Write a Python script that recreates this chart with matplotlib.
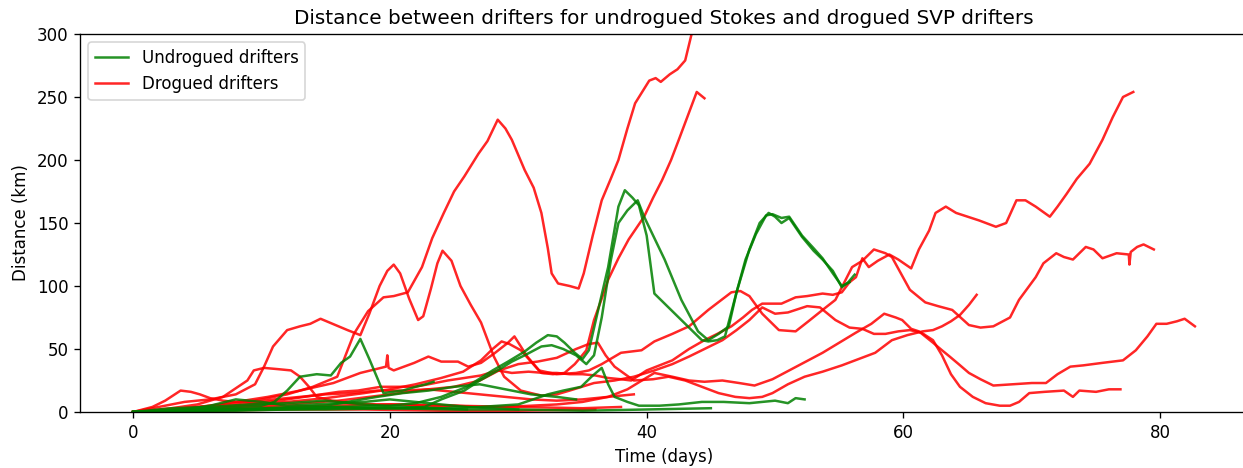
import matplotlib.pyplot as plt

# Distance (km) between drifter pairs vs. time (days)

# drogued SVP drifters
d1_t = [0, 3, 6, 9, 12, 14, 15.9, 17.2, 18.3, 19.5, 20.3, 21.4, 22.5, 23.3, 24.2, 25.0, 25.8, 26.9, 27.6, 28.4,
        29.0, 29.5, 30.5, 31.2, 31.8, 32.3, 32.6, 33.1, 34.0, 34.7, 35.1, 35.8, 36.5, 37.2, 37.8, 38.5, 39.1,
        40.2, 40.7, 41.1, 41.8, 42.4, 43.0, 43.5, 44.2]
d1_km = [0, 2, 5, 8, 14, 20, 28, 62, 80, 91, 92, 95, 115, 138, 158, 175, 187, 205, 215, 232,
         225, 216, 192, 178, 158, 130, 110, 102, 100, 98, 110, 140, 168, 185, 200, 225, 245,
         263, 265, 262, 268, 272, 279, 300, 320]

d2_t = [0, 2, 4, 6, 8, 9.5, 10.2, 10.9, 12, 13, 13.8, 14.6, 15.3, 16.7, 17.7, 18.4, 19.2, 19.8, 20.3, 20.8,
        21.5, 22.2, 22.6, 23.2, 23.7, 24.1, 24.8, 25.5, 26.3, 27.1, 28.1, 28.9, 30.2, 31.8, 33.0, 34.0, 35.9,
        37.5, 39.0, 40.6, 42.0, 43.3, 44.5, 45.9, 47.0, 48.0, 49.0, 50.0, 51.0, 51.6, 52.5, 53.5, 54.7, 55.8,
        56.8, 57.7, 58.6, 59.6, 60.5, 61.4, 62.3, 63.0, 63.7, 64.4, 65.4, 66.4, 67.5, 68.3, 69.0, 69.8, 71.0,
        72.5, 73.2, 73.7, 75.0, 76.0, 76.9]
d2_km = [0, 4, 8, 10, 14, 22, 36, 52, 65, 68, 70, 74, 71, 65, 61, 78, 100, 112, 117, 110,
         90, 73, 76, 98, 118, 128, 120, 100, 85, 71, 44, 28, 17, 13, 14, 17, 23,
         25, 28, 33, 38, 44, 50, 57, 65, 73, 83, 78, 79, 81, 84, 83, 73, 67,
         66, 62, 62, 64, 65, 63, 57, 45, 30, 20, 12, 7, 5, 5, 8, 15, 16,
         17, 12, 17, 16, 18, 18]

d3_t = [0, 3, 5, 7, 8.9, 9.4, 10.2, 11.3, 12.3, 13.0, 13.7, 14.3, 15.5, 17, 19, 21, 23, 25, 27, 29, 31, 33,
        35, 37, 38.5, 40.6, 42.0, 43.3, 44.5, 45.9, 47.2, 48.4, 49.8, 51.1, 52.4, 53.7, 55.0, 56.3, 57.5,
        58.5, 59.4, 59.9, 60.6, 61.2, 62.3, 63.0, 63.6, 64.3, 65.1, 66.0, 67.0, 68.5, 70.0, 71.1, 72.0,
        73.0, 74.0, 75.5, 77.1, 78.1, 79.0, 79.7, 80.5, 81.3, 81.9, 82.3, 82.7]
d3_km = [0, 3, 6, 12, 25, 33, 35, 34, 33, 28, 20, 12, 9, 7, 6, 6, 5, 5, 4, 4, 5, 6,
         8, 12, 18, 31, 28, 25, 24, 25, 23, 21, 26, 33, 40, 47, 55, 63, 70,
         78, 75, 73, 66, 64, 55, 49, 44, 38, 31, 26, 21, 22, 23, 23, 30,
         36, 37, 39, 41, 49, 60, 70, 70, 72, 74, 71, 68]

d4_t = [0, 2, 4, 6, 8, 10.5, 13, 15.6, 17.7, 19.3, 19.7, 19.8, 19.9, 20.3, 21.1, 21.9, 23.0, 24.0, 25.3,
        26.1, 27.1, 28.2, 29.2, 29.7, 30.2, 30.7, 31.8, 32.7, 33.6, 34.4, 34.9, 35.3, 35.9, 36.5, 37.0,
        37.8, 38.6, 39.2, 39.8, 40.5, 41.2, 41.9, 42.5, 43.2, 43.9, 44.5]
d4_km = [0, 1, 3, 5, 8, 12, 17, 23, 31, 35, 36, 45, 35, 33, 36, 39, 44, 40, 40,
         36, 39, 47, 55, 60, 52, 44, 31, 30, 31, 38, 44, 49, 73, 90, 105,
         122, 137, 146, 155, 170, 184, 200, 216, 235, 254, 249]

d5_t = [0, 3, 6, 9, 12, 14, 16, 17.5, 19.3, 21.9, 23.0, 24.5, 25.8, 27.1, 28.4, 29.5, 30.8, 32.0, 33.0,
        34.0, 35.0, 36.0, 37.0, 38.0, 38.8, 40.0, 42.0, 43.3, 44.5, 45.5, 46.6, 47.5, 48.2, 49.0, 50.5,
        51.6, 52.5, 53.7, 54.5, 55.2, 55.8, 56.3, 56.8, 57.3, 58.0, 58.9, 59.6, 60.6, 61.2, 62.0, 62.5,
        63.3, 64.1, 65.0, 65.9, 67.2, 68.0, 68.8, 69.5, 70.3, 71.4, 72.0, 72.7, 73.5, 74.5, 75.5, 76.3,
        77.1, 77.9]
d5_km = [0, 1, 3, 6, 10, 13, 16, 17, 20, 20, 22, 25, 27, 29, 33, 31, 32, 31, 31,
         30, 30, 29, 27, 26, 25, 33, 41, 50, 57, 62, 68, 75, 81, 86, 86,
         91, 92, 94, 93, 95, 103, 107, 122, 115, 120, 125, 121, 114, 129, 144, 158,
         163, 158, 155, 152, 147, 150, 168, 168, 163, 155, 163, 173, 185, 197, 216, 234,
         250, 254]

d6_t = [0, 3, 6, 9, 12, 15, 18, 20, 22, 24, 25.7, 27.1, 28.0, 28.7, 29.3, 30.2, 31.6, 33.0, 34.5, 35.5,
        36.5, 37.5, 38.0, 39.6, 40.6, 42.0, 43.3, 44.8, 45.7, 46.6, 47.3, 48.0, 49.0, 50.3, 51.6, 52.6,
        53.7, 54.7, 55.2, 56.0, 56.8, 57.7, 58.6, 59.1, 59.8, 60.5, 61.7, 62.7, 63.8, 65.1, 66.0, 67.0,
        68.3, 69.0, 70.3, 70.9, 71.9, 72.5, 73.2, 74.2, 74.8, 75.5, 76.6, 77.55, 77.6, 77.7, 78.2, 78.7,
        79.5]
d6_km = [0, 2, 4, 6, 8, 11, 15, 18, 22, 27, 32, 41, 50, 56, 54, 49, 33, 30, 31, 33,
         38, 44, 47, 49, 56, 62, 68, 81, 88, 95, 96, 92, 78, 65, 64, 72,
         81, 89, 99, 115, 120, 129, 126, 123, 110, 97, 87, 84, 81, 69, 67, 68,
         75, 89, 107, 118, 126, 123, 121, 131, 129, 122, 126, 125, 117, 127, 131, 133,
         129]

d7_t = [0, 1.5, 2.5, 3.7, 4.5, 5.2, 6.0, 7.0, 8.0, 9.5, 11, 13, 15, 17, 19, 21, 23, 25, 27, 29, 31, 33, 35,
        37, 39]
d7_km = [0, 4, 9, 17, 16, 14, 11, 9, 8, 8, 10, 12, 14, 15, 17, 17, 18, 16, 14, 12, 10, 9, 10,
         12, 14]

d8_t = [0, 4, 8, 12, 16, 20, 23, 25, 27, 28.5, 30, 31.5, 33, 34.5, 35.5, 36.2, 36.8, 37.5, 39.0, 40.5,
        41.7, 43.0, 44.3, 45.6, 46.9, 48.0, 49.0, 49.8, 51.0, 52.3, 53.7, 55.2, 56.5, 57.8, 59.1, 60.3,
        61.5, 62.3, 63.0, 63.7, 64.4, 65.1, 65.7]
d8_km = [0, 2, 4, 6, 9, 14, 18, 20, 25, 33, 38, 40, 43, 50, 54, 55, 45, 36, 25, 26,
         28, 25, 20, 15, 12, 11, 12, 15, 22, 28, 32, 37, 42, 47, 57, 61,
         64, 65, 68, 72, 77, 85, 93]

d9_t = [0, 5, 10, 15, 20, 25, 30, 35, 38]
d9_km = [0, 2, 4, 5, 6, 5, 4, 3, 4]

d10_t = [0, 6, 12, 18, 24, 30, 36]
d10_km = [0, 1, 2, 2, 1, 1, 2]

# undrogued Stokes drifters
u1_t = [0, 4, 8, 12, 16, 20, 22, 24, 26, 28.0, 29.2, 30.5, 31.4, 32.3, 33.0, 33.6, 34.4, 35.0, 35.5, 36.2,
        37.0, 37.8, 38.3, 38.9, 39.4, 40.0, 40.6, 41.7, 43.0, 44.3, 44.8, 45.5, 46.1, 47.0, 48.0, 48.8,
        49.5, 50.0, 50.5, 51.1, 52.1, 53.0, 53.7, 54.5, 55.2, 55.7, 56.2]
u1_km = [0, 1, 2, 3, 4, 5, 7, 12, 20, 33, 40, 48, 55, 61, 60, 55, 47, 42, 49, 80,
         115, 163, 176, 170, 164, 140, 94, 83, 70, 57, 56, 57, 60, 95, 129, 150,
         158, 155, 150, 154, 139, 128, 121, 112, 99, 103, 109]

u2_t = [0, 4, 8, 12, 16, 20, 22.7, 24.0, 25.8, 27.0, 28.4, 29.5, 30.5, 31.8, 32.6, 33.5, 34.5, 35.3, 35.9,
        36.5, 37.2, 37.8, 38.5, 39.3, 39.8, 40.6, 41.4, 42.7, 44.0, 44.8, 45.6, 46.4, 47.0, 47.7, 48.5,
        49.3, 49.8, 50.5, 51.1, 52.1, 53.0, 53.7, 54.5, 55.2, 55.8]
u2_km = [0, 1, 1, 2, 3, 3, 4, 10, 17, 25, 33, 40, 45, 52, 53, 50, 45, 38, 45,
         75, 120, 150, 160, 168, 155, 138, 121, 89, 64, 57, 62, 68, 95, 121, 141,
         156, 157, 154, 155, 140, 130, 122, 110, 100, 103]

u3_t = [0, 2, 4, 6, 8, 10, 11, 12, 13, 14.3, 15.4, 16.2, 16.9, 17.7, 18.4, 19.1, 19.5, 20.2, 21.0, 22.0,
        22.8, 23.4]
u3_km = [0, 1, 2, 3, 4, 5, 8, 17, 28, 30, 29, 39, 44, 58, 42, 25, 15, 16, 17, 20,
         22, 24]

u4_t = [0, 4, 8, 12, 16, 20, 24, 27, 30, 32.3, 33.5, 34.9, 35.7, 36.5, 37.0, 37.5, 38.5, 39.4, 41.0, 42.5,
        44.3, 46.0, 48.0, 50.0, 51.0, 51.6, 52.3]
u4_km = [0, 1, 2, 3, 4, 3, 3, 4, 6, 14, 17, 20, 28, 35, 22, 12, 8, 5, 5, 6,
         8, 8, 7, 9, 7, 11, 10]

u5_t = [0, 5, 10, 15, 19, 21, 23, 25, 27, 29, 31, 33, 34.5]
u5_km = [0, 2, 3, 5, 12, 15, 17, 20, 22, 18, 14, 12, 10]

u6_t = [0, 4, 6, 8, 10, 12, 14, 16, 18, 20, 22, 24, 26, 28, 30]
u6_km = [0, 2, 5, 10, 8, 5, 6, 7, 8, 10, 8, 6, 4, 3, 2]

u7_t = [0, 5, 10, 15, 20, 25, 30, 35, 40, 45]
u7_km = [0, 1, 2, 2, 3, 2, 2, 1, 2, 3]

u8_t = [0, 3, 6, 9, 12, 15, 18, 21, 24, 26]
u8_km = [0, 3, 4, 6, 7, 9, 6, 4, 3, 2]

drogued = [(d1_t, d1_km), (d2_t, d2_km), (d3_t, d3_km), (d4_t, d4_km), (d5_t, d5_km),
           (d6_t, d6_km), (d7_t, d7_km), (d8_t, d8_km), (d9_t, d9_km), (d10_t, d10_km)]
undrogued = [(u1_t, u1_km), (u2_t, u2_km), (u3_t, u3_km), (u4_t, u4_km),
             (u5_t, u5_km), (u6_t, u6_km), (u7_t, u7_km), (u8_t, u8_km)]

plt.figure(figsize=(1243 / 120, 468 / 120), dpi=120)
ax = plt.gca()
ax.set_position([80 / 1243, 56 / 468, 1168 / 1243, 378 / 468])

for i, (t, km) in enumerate(drogued):
    ax.plot(t, km, color='r', alpha=0.85, linewidth=1.5, label='Drogued drifters' if i == 0 else None)
for i, (t, km) in enumerate(undrogued):
    ax.plot(t, km, color='g', alpha=0.85, linewidth=1.5, label='Undrogued drifters' if i == 0 else None)

h, l = ax.get_legend_handles_labels()
ax.legend([h[1], h[0]], [l[1], l[0]], loc='upper left')
ax.set_ylim(0, 300)
ax.set_title('Distance between drifters for undrogued Stokes and drogued SVP drifters')
ax.set_xlabel('Time (days)')
ax.set_ylabel('Distance (km)')
plt.savefig('out.png', dpi=120)
